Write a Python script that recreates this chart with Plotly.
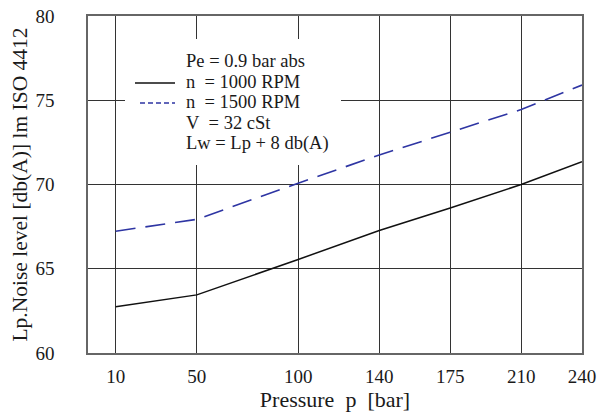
import plotly.graph_objects as go

# Data
pressure_bar = [10, 50, 100, 140, 175, 210, 240]
noise_1000rpm = [62.75, 63.45, 65.55, 67.27, 68.6, 70.0, 71.35]
noise_1500rpm = [67.23, 67.93, 70.08, 71.75, 73.1, 74.45, 75.9]
x_tick_labels = ["10", "50", "100", "140", "175", "210", "240"]
y_ticks = [60, 65, 70, 75, 80]

legend_lines = [
    "Pe = 0.9 bar abs",
    "n\u00a0 = 1000 RPM",
    "n\u00a0 = 1500 RPM",
    "V\u00a0 = 32 cSt",
    "Lw = Lp + 8 db(A)",
]

W, H = 606, 416
ML, MR, MT, MB = 88, 24, 16, 63
PW, PH = W - ML - MR, H - MT - MB


def px(x):
    return (x - ML) / PW


def py(y):
    return 1 - (y - MT) / PH


SERIF = "Liberation Serif, Times New Roman, serif"

fig = go.Figure()
fig.add_trace(go.Scatter(
    x=pressure_bar, y=noise_1000rpm, mode="lines", name="n = 1000 RPM",
    line=dict(color="#111111", width=1.5), showlegend=False,
))
fig.add_trace(go.Scatter(
    x=pressure_bar, y=noise_1500rpm, mode="lines", name="n = 1500 RPM",
    line=dict(color="#2e35a3", width=1.6, dash="20px,10px"), showlegend=False,
))

shapes = [
    # white text box covering the grid
    dict(type="rect", xref="paper", yref="paper", layer="above",
         x0=px(125), x1=px(341), y0=py(165), y1=py(39),
         fillcolor="white", line=dict(width=0)),
    # legend samples
    dict(type="line", xref="paper", yref="paper", layer="above",
         x0=px(135), x1=px(175), y0=py(83), y1=py(83),
         line=dict(color="#111111", width=1.5)),
    dict(type="line", xref="paper", yref="paper", layer="above",
         x0=px(140), x1=px(175), y0=py(103), y1=py(103),
         line=dict(color="#2e35a3", width=1.5, dash="5px,3px")),
]

annotations = []
line_y = [61, 82, 102, 123, 143.5]
for t, yy in zip(legend_lines, line_y):
    annotations.append(dict(
        text=t, xref="paper", yref="paper", x=px(184), y=py(yy),
        xanchor="left", yanchor="middle", showarrow=False,
        font=dict(family=SERIF, size=18.5, color="#1a1a1a"),
    ))

fig.update_layout(
    width=W, height=H,
    margin=dict(l=ML, r=MR, t=MT, b=MB, autoexpand=False),
    paper_bgcolor="white", plot_bgcolor="white",
    shapes=shapes, annotations=annotations,
    font=dict(family=SERIF, color="#1a1a1a"),
)
fig.update_xaxes(
    range=[-3.66, 240], tickvals=pressure_bar, ticktext=x_tick_labels,
    showgrid=True, gridcolor="#333333", gridwidth=1,
    showline=True, linecolor="#666666", linewidth=1.5, mirror=True,
    zeroline=False, ticks="", ticklabelstandoff=5, automargin=False,
    tickfont=dict(family=SERIF, size=19, color="#1a1a1a"),
    title=dict(text="Pressure\u00a0 p\u00a0 [bar]\u00a0\u00a0\u00a0\u00a0\u00a0",
               font=dict(family=SERIF, size=22, color="#1a1a1a"), standoff=0),
)
fig.update_yaxes(
    range=[60, 80], tickvals=y_ticks,
    showgrid=True, gridcolor="#333333", gridwidth=1,
    showline=True, linecolor="#666666", linewidth=1.5, mirror=True,
    zeroline=False, ticks="", ticklabelstandoff=28, automargin=False,
    tickfont=dict(family=SERIF, size=19, color="#1a1a1a"),
    title=dict(text="Lp.Noise level [db(A)] lm ISO 4412\u00a0\u00a0\u00a0",
               font=dict(family=SERIF, size=21.5, color="#1a1a1a"), standoff=2),
)

fig.write_html(
    "out.html",
    config={"displayModeBar": False},
    post_script="document.body.style.margin='0';document.body.style.padding='0';",
)
